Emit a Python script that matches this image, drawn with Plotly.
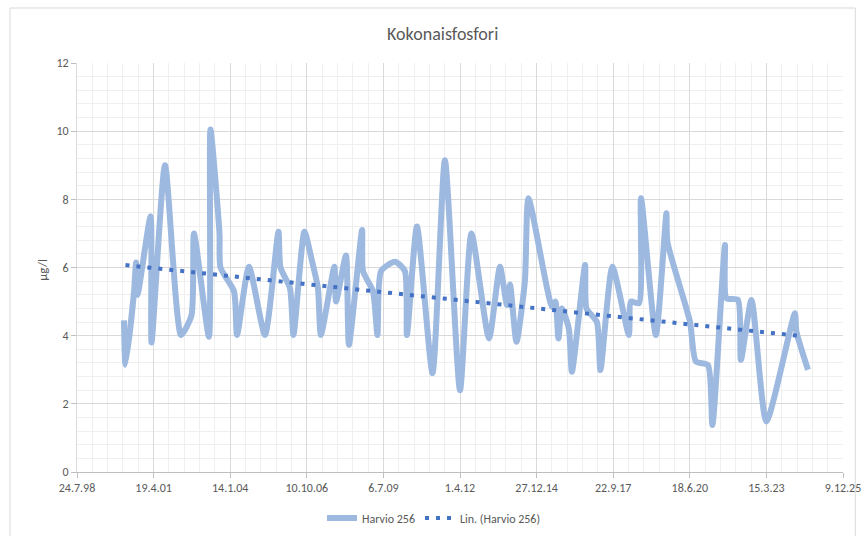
import numpy as np
import pandas as pd
import plotly.graph_objects as go

# ---- data ----
dates = [
    "2000-03-28", "2000-04-17", "2000-08-07", "2000-09-02", "2000-09-21",
    "2001-03-10", "2001-03-23", "2001-09-15", "2002-04-12", "2002-08-27",
    "2002-09-28", "2003-04-12", "2003-05-01", "2003-08-27", "2003-09-09",
    "2004-03-04", "2004-04-12", "2004-09-15", "2005-04-12", "2005-10-05",
    "2005-10-31", "2006-03-04", "2006-04-19", "2006-09-09", "2006-12-16",
    "2007-03-04", "2007-04-12", "2007-10-05", "2007-10-27", "2008-03-04",
    "2008-04-12", "2008-10-01", "2008-10-12", "2009-02-20", "2009-04-19",
    "2009-06-05", "2009-12-05", "2010-04-12", "2010-05-09", "2010-09-17",
    "2011-04-08", "2011-09-17", "2012-04-01", "2012-08-29", "2013-04-15",
    "2013-09-05", "2013-12-05", "2014-01-14", "2014-04-08", "2014-07-27",
    "2014-09-12", "2015-07-16", "2015-08-29", "2015-10-08", "2015-11-22",
    "2016-02-21", "2016-04-01", "2016-09-20", "2016-10-08", "2017-02-21",
    "2017-04-08", "2017-09-12", "2018-04-15", "2018-05-12", "2018-08-24",
    "2018-09-20", "2019-04-02", "2019-08-18", "2019-08-30", "2020-06-20",
    "2020-09-06", "2021-02-10", "2021-04-09", "2021-09-20", "2021-10-10",
    "2022-03-08", "2022-04-16", "2022-09-01", "2023-03-15", "2024-03-21",
    "2024-04-10", "2024-09-08",
]
values = [
    4.45, 3.15, 5.3, 6.15, 5.2,
    7.5, 3.8, 9.0, 4.02, 4.6,
    7.0, 3.97, 10.05, 7.0, 6.0,
    5.3, 4.02, 6.02, 4.02, 7.05,
    6.0, 5.4, 4.02, 7.05, 6.2,
    5.4, 4.02, 6.02, 5.0, 6.35,
    3.73, 7.1, 5.9, 5.3, 4.02,
    5.9, 6.17, 5.9, 4.02, 7.2,
    2.9, 9.15, 2.4, 7.0, 3.92,
    6.02, 4.9, 5.5, 3.82, 5.6,
    8.03, 4.85, 5.0, 3.92, 4.8,
    4.2, 2.94, 6.07, 4.8, 4.4,
    2.99, 6.02, 4.02, 5.0, 4.95,
    8.03, 4.02, 7.59, 6.76, 4.41,
    3.24, 3.14, 1.38, 6.66, 5.1,
    5.05, 3.29, 5.05, 1.48, 4.66,
    4.12, 3.0,
]
# linear trend line values at its two ends
trend_dates = ["2000-04-17", "2024-06-01"]
trend_values = [6.07, 3.99]

series_name = "Harvio 256"
trend_name = "Lin. (Harvio 256)"
title_text = "Kokonaisfosfori"
y_title = "µg/l"
x_start = "1998-07-24"
x_end = "2025-12-09"
y_ticks = [0, 2, 4, 6, 8, 10, 12]

FONT = "Carlito, Calibri, 'Liberation Sans Narrow', 'Open Sans', sans-serif"
TXT = "#595959"
DAY_MS = 86400000

fig = go.Figure()
fig.add_trace(go.Scatter(
    x=pd.to_datetime(dates), y=values, mode="lines", name=series_name,
    line=dict(color="#9db9df", width=6, shape="spline", smoothing=0.6),
))
fig.add_trace(go.Scatter(
    x=pd.to_datetime(trend_dates), y=trend_values, mode="lines", name=trend_name,
    line=dict(color="#4472c4", width=4, dash="4px,7px"),
))

fig.update_layout(
    width=868, height=536,
    margin=dict(l=77, r=25, t=63, b=64, autoexpand=False),
    paper_bgcolor="white", plot_bgcolor="white",
    font=dict(family=FONT, color=TXT, size=12),
    title=dict(text=title_text, x=0.51, xanchor="center", y=0.938, yanchor="middle",
               font=dict(size=18, color=TXT, family=FONT)),
    showlegend=True,
    legend=dict(orientation="h", x=0.5, xanchor="center", xref="container",
                y=1 - 518 / 536, yanchor="middle", yref="container",
                font=dict(size=12, color=TXT, family=FONT)),
    annotations=[dict(text=y_title, xref="paper", yref="paper", x=-0.057, y=0.494,
                      showarrow=False, textangle=-90, font=dict(size=13, color=TXT))],
    shapes=[dict(type="rect", xref="paper", yref="paper", x0=-0.0875, x1=1.016,
                 y0=-0.16, y1=1.1345, line=dict(color="#d9d9d9", width=1),
                 layer="below")],
)
fig.update_xaxes(
    type="date", range=[x_start, x_end], automargin=False,
    tick0=x_start, dtick=1000 * DAY_MS, tickformat="%-d.%-m.%y",
    showgrid=True, gridcolor="#d9d9d9", gridwidth=1,
    minor=dict(tick0=x_start, dtick=200 * DAY_MS, showgrid=True,
               gridcolor="#efefef", gridwidth=1),
    showline=True, linecolor="#bfbfbf", linewidth=1,
    ticks="outside", ticklen=5, tickcolor="#bfbfbf",
    tickfont=dict(size=12, color=TXT), zeroline=False,
)
fig.update_yaxes(
    range=[0, 12], tickvals=y_ticks, automargin=False,
    showgrid=True, gridcolor="#d9d9d9", gridwidth=1,
    minor=dict(dtick=0.4, showgrid=True, gridcolor="#efefef", gridwidth=1),
    showline=True, linecolor="#d9d9d9", linewidth=1,
    ticks="outside", ticklen=5, tickcolor="#bfbfbf",
    tickfont=dict(size=12, color=TXT), zeroline=False,
)

fig.write_html("out.html", config={"displayModeBar": False},
               post_script="document.body.style.margin='0';")
